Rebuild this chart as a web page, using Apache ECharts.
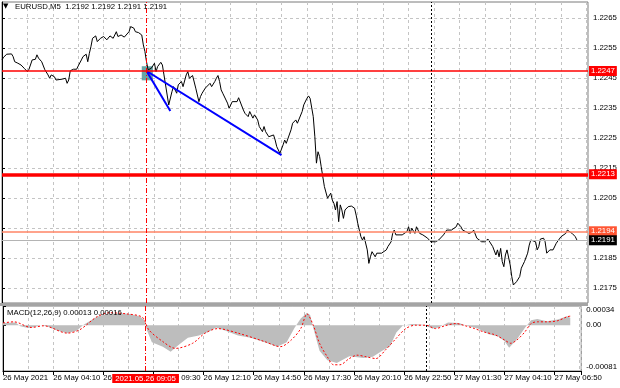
<!DOCTYPE html>
<html><head><meta charset="utf-8">
<script src="https://cdn.jsdelivr.net/npm/echarts@6/dist/echarts.min.js"></script>
<style>html,body{margin:0;padding:0;background:#fff}#c{width:620px;height:388px}</style>
</head><body><div id="c"></div>
<script>
// ---- data ----
const timeLabels = ['26 May 2021','26 May 04:10','26 May 06:50','26 May 09:30','26 May 12:10','26 May 14:50','26 May 17:30','26 May 20:10','26 May 22:50','27 May 01:30','27 May 04:10','27 May 06:50'];
const priceTicks = [1.2175,1.2185,1.2195,1.2205,1.2215,1.2225,1.2235,1.2245,1.2255,1.2265];
const macdTicks = [-0.00081, 0, 0.00034];
// [bar index (M5 bars from 26 May 01:30), close]
const closes = [
[0,1.22511],[1,1.22520],[3,1.22530],[6,1.22531],[7,1.22522],[8,1.22505],[10,1.22500],[12,1.22494],[14,1.22483],[16,1.22472],
[17,1.22480],[19,1.22511],[21,1.22513],[22,1.22528],[23,1.22517],[25,1.22505],[27,1.22478],[29,1.22461],[30,1.22450],[31,1.22461],
[33,1.22455],[34,1.22444],[35,1.22450],[38,1.22447],[40,1.22450],[41,1.22433],[42,1.22444],[43,1.22475],[45,1.22480],[47,1.22480],
[48,1.22491],[50,1.22511],[51,1.22522],[53,1.22530],[54,1.22505],[55,1.22533],[56,1.22555],[57,1.22583],[59,1.22591],[60,1.22572],
[62,1.22583],[64,1.22589],[66,1.22578],[68,1.22591],[70,1.22583],[72,1.22605],[73,1.22589],[75,1.22594],[77,1.22587],[80,1.22605],
[81,1.22622],[83,1.22617],[84,1.22605],[86,1.22602],[88,1.22594],[89,1.22561],[90,1.22539],[91,1.22505],[92,1.22478],[94,1.22483],
[96,1.22500],[97,1.22472],[98,1.22489],[100,1.22503],[101,1.22494],[102,1.22461],[104,1.22394],[105,1.22361],[107,1.22405],[108,1.22422],
[110,1.22400],[111,1.22428],[113,1.22439],[114,1.22422],[116,1.22461],[117,1.22472],[118,1.22450],[120,1.22459],[121,1.22455],[122,1.22417],
[124,1.22372],[125,1.22389],[126,1.22400],[128,1.22417],[129,1.22411],[131,1.22433],[132,1.22422],[134,1.22439],[135,1.22450],[136,1.22459],
[137,1.22439],[138,1.22411],[139,1.22400],[140,1.22405],[142,1.22367],[143,1.22350],[145,1.22372],[146,1.22378],[148,1.22372],[149,1.22385],
[150,1.22383],[152,1.22344],[153,1.22333],[155,1.22322],[156,1.22339],[158,1.22317],[159,1.22328],[161,1.22311],[162,1.22289],[164,1.22272],
[165,1.22289],[166,1.22272],[168,1.22255],[169,1.22261],[171,1.22261],[172,1.22244],[173,1.22222],[175,1.22200],[176,1.22194],[177,1.22228],
[178,1.22244],[179,1.22233],[180,1.22239],[182,1.22278],[183,1.22300],[185,1.22311],[186,1.22300],[187,1.22294],[189,1.22339],[190,1.22361],
[192,1.22383],[193,1.22391],[194,1.22383],[195,1.22378],[196,1.22322],[197,1.22255],[198,1.22167],[199,1.22205],[200,1.22189],[201,1.22155],
[202,1.22122],[203,1.22089],[205,1.22050],[206,1.22055],[207,1.22067],[208,1.22044],[209,1.22033],[210,1.22011],[211,1.22039],[212,1.21972],
[213,1.22028],[214,1.22011],[215,1.21983],[216,1.22011],[217,1.22017],[218,1.22022],[220,1.22024],[221,1.22028],[222,1.22017],[223,1.21994],
[224,1.21967],[225,1.21944],[226,1.21922],[227,1.21911],[228,1.21922],[229,1.21917],[230,1.21878],[231,1.21833],[232,1.21855],[233,1.21872],
[234,1.21867],[235,1.21855],[236,1.21867],[237,1.21861],[239,1.21867],[240,1.21872],[242,1.21878],[243,1.21889],[245,1.21905],[246,1.21933],
[247,1.21944],[248,1.21928],[250,1.21928],[252,1.21928],[253,1.21928],[255,1.21939],[256,1.21955],[257,1.21933],[258,1.21950],[259,1.21953],
[260,1.21933],[261,1.21955],[262,1.21944],[263,1.21933],[265,1.21928],[266,1.21922],[268,1.21917],[270,1.21905],[271,1.21900],[273,1.21905],
[275,1.21911],[276,1.21917],[278,1.21928],[280,1.21944],[281,1.21941],[283,1.21944],[284,1.21941],[286,1.21955],[287,1.21967],[289,1.21955],
[290,1.21944],[292,1.21939],[293,1.21941],[294,1.21933],[296,1.21937],[297,1.21944],[299,1.21917],[300,1.21922],[302,1.21905],[303,1.21900],
[304,1.21905],[306,1.21914],[307,1.21911],[309,1.21889],[311,1.21861],[312,1.21878],[313,1.21855],[314,1.21883],[315,1.21839],[316,1.21822],
[317,1.21861],[318,1.21878],[320,1.21828],[321,1.21789],[322,1.21761],[323,1.21755],[324,1.21772],[325,1.21767],[326,1.21789],[327,1.21817],
[328,1.21828],[329,1.21839],[331,1.21867],[332,1.21894],[333,1.21911],[334,1.21917],[336,1.21905],[337,1.21878],[338,1.21889],[339,1.21914],
[341,1.21917],[342,1.21905],[343,1.21867],[344,1.21872],[345,1.21878],[347,1.21878],[348,1.21883],[349,1.21900],[350,1.21905],[352,1.21922],
[353,1.21928],[355,1.21933],[356,1.21944],[357,1.21944],[359,1.21933],[360,1.21939],[361,1.21922],[362,1.21911]
];
const histBars = [0,8,11,16,20,24,28,34,41,47,51,58,62,68,74,81,87,90,92,95,102,107,112,118,125,131,136,142,150,158,167,175,181,186,190,194,196,198,202,207,213,221,230,236,242,247,251,255,261,268,274,278,284,291,297,303,310,316,320,323,328,333,337,341,347,354,360,362];
const histVals = [0.00004,0.00005,-0.00002,-0.00005,-0.00003,0,-0.00002,-0.00009,-0.00014,-0.0001,0,0.00012,0.00017,0.0002,0.00021,0.0002,0.00016,0.0001,-0.0001,-0.0003,-0.00038,-0.00047,-0.00035,-0.00022,-0.00018,-0.00012,-0.00004,-0.0001,-0.00018,-0.00022,-0.0003,-0.00038,-0.0003,-0.00005,0.00012,0.00022,0.00018,-0.00005,-0.00045,-0.00062,-0.00067,-0.00055,-0.00058,-0.00056,-0.00045,-0.00037,-0.00013,-0.00001,0.00002,0.00001,-0.00006,-0.00004,0.00005,0.00004,-0.00002,-0.00006,-0.00016,-0.0002,-0.00028,-0.0004,-0.00025,-0.00005,0.00009,0.00011,0.00007,0.0001,0.00016,0.00013];
const signalBars = [0,7,18,26,41,49,60,68,79,89,93,102,110,121,129,137,150,167,177,184,190,194,198,202,207,211,215,221,226,232,238,244,251,257,263,270,276,282,289,295,301,307,314,320,324,328,333,337,341,347,354,360,362];
const signalVals = [0.00004,0.00006,-0.00004,-0.00001,-0.00014,-0.00008,0.00015,0.00022,0.0002,0.00014,-0.00008,-0.00029,-0.00041,-0.00032,-0.00014,-0.00006,-0.00014,-0.00029,-0.00038,-0.00026,-0.00006,0.0002,0,-0.00032,-0.00056,-0.0007,-0.0007,-0.00059,-0.00053,-0.00056,-0.00059,-0.00044,-0.00023,-0.00006,0,0,-0.00006,-0.00001,0.00003,-0.00001,-0.00006,-0.00012,-0.00017,-0.00026,-0.00032,-0.00026,-0.00012,0.00003,0.00006,0.00006,0.00008,0.00015,0.00016];
const levels = [1.22474, 1.2213, 1.2194, 1.2191];
const levelText = ['1.2247','1.2213','1.2194','1.2191'];
const entryBar = 91, dayBar = 270;
const entryTime = '2021.05.26 09:05';
const entryBox = [[88, 1.22490], [95, 1.22443]];
const blueLine1 = [[91, 1.22474], [106, 1.22341]];
const blueLine2 = [[91, 1.22474], [176, 1.22194]];
const title = 'EURUSD,M5  1.2192 1.2192 1.2191 1.2191';
const macdTitle = 'MACD(12,26,9) 0.00013 0.00016';

// ---- chart ----
const FONT = 'Liberation Sans';
const FS = 7.8;
const gridColor = '#c4c4c4';
const chart = echarts.init(document.getElementById('c'));
const lvlColors = ['#ff0000','#ff0000','#ff8466','#b4b4b4'];
const lvlWidths = [1.5, 3.5, 1.5, 1];
const lvlBg = ['#ff0000','#ff0000','#ff5533','#000000'];
const hLines = levels.map((v,i)=>({
  yAxis: v,
  lineStyle:{color:lvlColors[i], width:lvlWidths[i], type:'solid'},
  label:{show:true, position:'end', distance:1, formatter: levelText[i], color:'#fff', backgroundColor:lvlBg[i], fontSize:FS, fontFamily:FONT, padding:[1,2,0,2], lineHeight:9}
}));
const vLines = [
  {xAxis: entryBar, lineStyle:{color:'#ff0000', width:1, type:[5,2,1,2]}, label:{show:false}},
  {xAxis: dayBar, lineStyle:{color:'#000', width:1, type:[2,2]}, label:{show:false}}
];
// price scale labels hidden where a level label covers them (as the terminal does)
const priceLabel = v => levels.some(l => Math.abs(l - v) < 0.00015) ? '' : v.toFixed(4);
const xSplit = {show:true, lineStyle:{color:gridColor, type:[3,3], width:1}};
const option = {
  animation:false,
  backgroundColor:'#fff',
  textStyle:{fontFamily:FONT},
  grid:[
    {left:2,right:32,top:2,height:301,show:true,borderColor:'#7a7a7a',borderWidth:1},
    {left:2,right:32,top:306,height:65,show:true,borderColor:'#7a7a7a',borderWidth:1}
  ],
  xAxis:[
    {gridIndex:0,type:'value',min:0,max:369,interval:16,axisLine:{show:false},axisTick:{show:false},axisLabel:{show:false},splitLine:xSplit},
    {gridIndex:1,type:'value',min:0,max:369,interval:16,axisLine:{show:false},axisTick:{show:false},axisLabel:{show:false},splitLine:xSplit},
    {gridIndex:1,type:'value',position:'bottom',min:0,max:369,interval:32,
     axisLine:{show:true,lineStyle:{color:'#000',width:1}},
     axisTick:{show:true,length:4,lineStyle:{color:'#000'}},
     axisLabel:{fontSize:FS,fontFamily:FONT,color:'#000',align:'left',margin:3,
       formatter:v=> (v%32===0 && timeLabels[v/32]) ? timeLabels[v/32] : ''},
     splitLine:{show:false}}
  ],
  yAxis:[
    {gridIndex:0,type:'value',position:'right',min:1.21701,max:1.22704,
     axisLine:{show:true,lineStyle:{color:'#000'}},
     axisTick:{show:true,length:3,customValues:priceTicks,lineStyle:{color:'#000'}},
     axisLabel:{customValues:priceTicks,fontSize:FS,fontFamily:FONT,color:'#000',margin:5,formatter:priceLabel},
     splitLine:{show:true,lineStyle:{color:gridColor,type:[3,3]}}},
    {gridIndex:1,type:'value',position:'right',min:-0.00081,max:0.00034,
     axisLine:{show:true,lineStyle:{color:'#000'}},
     axisTick:{show:true,length:3,customValues:macdTicks,lineStyle:{color:'#000'}},
     axisLabel:{customValues:macdTicks,fontSize:FS,fontFamily:FONT,color:'#000',margin:5,
       verticalAlignMinLabel:'bottom',verticalAlignMaxLabel:'top',
       formatter:v=> v===0 ? '0.00' : v.toFixed(5)},
     splitLine:{show:false}}
  ],
  series:[
    {type:'line',xAxisIndex:0,yAxisIndex:0,data:closes,symbol:'none',z:3,
     lineStyle:{color:'#000',width:1},
     markLine:{silent:true,symbol:'none',precision:6,animation:false,data:[...hLines,...vLines]},
     markArea:{silent:true,itemStyle:{color:'rgba(62,140,140,0.78)'},data:[[{coord:entryBox[0]},{coord:entryBox[1]}]]}
    },
    {type:'line',xAxisIndex:0,yAxisIndex:0,data:blueLine1,symbol:'none',z:4,lineStyle:{color:'#0000ff',width:2}},
    {type:'line',xAxisIndex:0,yAxisIndex:0,data:blueLine2,symbol:'none',z:4,lineStyle:{color:'#0000ff',width:2}},
    {type:'line',xAxisIndex:1,yAxisIndex:1,data:histBars.map((b,i)=>[b,histVals[i]]),symbol:'none',z:2,
     lineStyle:{width:0,color:'#bdbdbd'},areaStyle:{color:'#bdbdbd',opacity:1},
     markLine:{silent:true,symbol:'none',precision:6,animation:false,data:vLines}},
    {type:'line',xAxisIndex:1,yAxisIndex:1,data:signalBars.map((b,i)=>[b,signalVals[i]]),symbol:'none',z:3,smooth:0.3,
     lineStyle:{color:'#ff0000',width:1,type:[2,2]}}
  ]
};
chart.setOption(option);
const ex = chart.convertToPixel({xAxisIndex:2}, entryBar);
chart.setOption({graphic:[
  {type:'rect',z:50,shape:{x:0,y:303,width:588,height:3},style:{fill:'#a4a4a4'}},
  {type:'text',z:50,left:3,top:3,style:{text:'▼',fontSize:7,fontFamily:'DejaVu Sans',fill:'#000'}},
  {type:'text',z:50,left:15,top:3,style:{text:title,fontSize:FS,fontFamily:FONT,fill:'#000'}},
  {type:'text',z:50,left:7,top:309,style:{text:macdTitle,fontSize:FS,fontFamily:FONT,fill:'#000'}},
  {type:'text',z:60,x:ex,y:374,style:{text:entryTime,fontSize:FS,fontFamily:FONT,fill:'#fff',backgroundColor:'#ff0000',padding:[1,3,0,3],align:'center',verticalAlign:'top'}}
]});
</script>
</body></html>
